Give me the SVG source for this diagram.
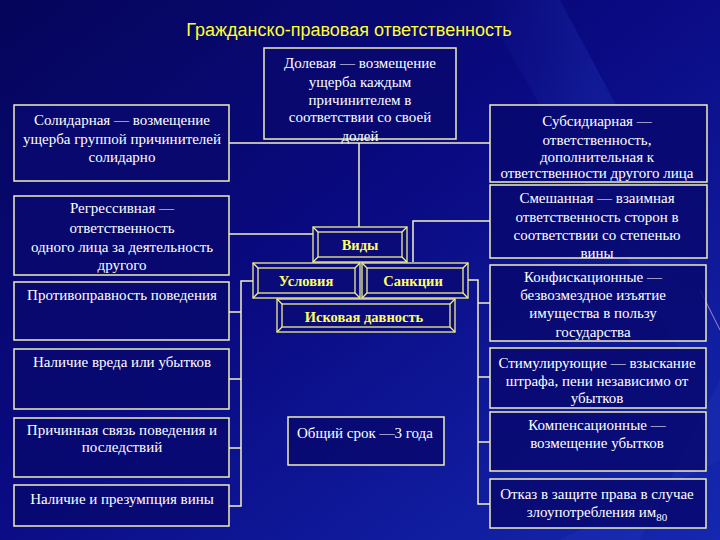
<svg xmlns="http://www.w3.org/2000/svg" width="720" height="540" viewBox="0 0 720 540">
<defs>
<linearGradient id="bg" x1="0" y1="0" x2="1" y2="1">
<stop offset="0" stop-color="#05055a"/>
<stop offset="0.45" stop-color="#0a0a82"/>
<stop offset="1" stop-color="#1428b0"/>
</linearGradient>
<linearGradient id="streak" x1="0" y1="0" x2="1" y2="0">
<stop offset="0" stop-color="#2a50d0" stop-opacity="0"/>
<stop offset="0.5" stop-color="#2a50d0" stop-opacity="0.35"/>
<stop offset="1" stop-color="#2a50d0" stop-opacity="0"/>
</linearGradient>
<style>
.box{fill:#08086e;fill-opacity:0.85;stroke:#eeeebb;stroke-width:1.5}
.bev{fill:#0a0a78;stroke:#f0f090;stroke-width:1.3}
.bevi{fill:none;stroke:#f0f090;stroke-width:1.3}
.t{font-family:'Liberation Serif','DejaVu Serif',serif;font-size:15px;fill:#ffffff;text-anchor:middle}
.tl{text-anchor:start}
.b{font-family:'Liberation Serif','DejaVu Serif',serif;font-size:14.5px;font-weight:bold;fill:#ffff66;text-anchor:middle}
.c{fill:none;stroke:#f2f2c0;stroke-width:1.5}
</style>
</defs>
<rect x="0" y="0" width="720" height="540" fill="url(#bg)"/>
<polygon points="480,0 560,0 720,300 720,420" fill="url(#streak)" opacity="0.6"/>
<polygon points="560,540 640,540 720,380 720,460" fill="#3050d0" opacity="0.15"/>
<line x1="700" y1="290" x2="720" y2="330" stroke="#e0b0e0" stroke-width="1" opacity="0.7"/>

<text x="349" y="36" font-family="'Liberation Sans',Arial,sans-serif" font-size="18" fill="#ffff33" text-anchor="middle">Гражданско-правовая ответственность</text>

<g id="connectors">
<line class="c" x1="229" y1="143" x2="490" y2="143"/>
<line class="c" x1="359" y1="143" x2="359" y2="227"/>
<line class="c" x1="229" y1="234" x2="313" y2="234"/>
<polyline class="c" points="413,262 413,221 490,221"/>
<polyline class="c" points="253,281 241,281 241,506 229,506"/>
<line class="c" x1="229" y1="312" x2="241" y2="312"/>
<line class="c" x1="229" y1="379" x2="241" y2="379"/>
<line class="c" x1="229" y1="448" x2="241" y2="448"/>
<polyline class="c" points="468,280 478,280 478,504 490,504"/>
<line class="c" x1="478" y1="303" x2="490" y2="303"/>
<line class="c" x1="478" y1="377" x2="490" y2="377"/>
<line class="c" x1="478" y1="442" x2="490" y2="442"/>
</g>

<g id="solidarnaya">
<rect class="box" x="14" y="105" width="215" height="76"/>
<text class="t" x="122" y="125">Солидарная — возмещение</text>
<text class="t" x="122" y="144">ущерба группой причинителей</text>
<text class="t" x="122" y="162">солидарно</text>
</g>

<g id="dolevaya">
<rect class="box" x="264" y="48" width="192" height="91"/>
<text class="t" x="360" y="68">Долевая — возмещение</text>
<text class="t" x="360" y="87">ущерба каждым</text>
<text class="t" x="360" y="105">причинителем в</text>
<text class="t" x="360" y="122">соответствии со своей</text>
<text class="t" x="360" y="141">долей</text>
</g>

<g id="subsidiarnaya">
<rect class="box" x="490" y="105" width="217" height="77"/>
<text class="t" x="597" y="126">Субсидиарная —</text>
<text class="t" x="597" y="145">ответственность,</text>
<text class="t" x="597" y="162">дополнительная к</text>
<text class="t" x="597" y="178">ответственности другого лица</text>
</g>

<g id="smeshannaya">
<rect class="box" x="490" y="185" width="217" height="73"/>
<text class="t" x="597" y="203">Смешанная — взаимная</text>
<text class="t" x="597" y="222">ответственность сторон в</text>
<text class="t" x="597" y="240">соответствии со степенью</text>
<text class="t" x="597" y="258">вины</text>
</g>

<g id="regressivnaya">
<rect class="box" x="14" y="196" width="215" height="79"/>
<text class="t" x="122" y="213">Регрессивная —</text>
<text class="t" x="122" y="233">ответственность</text>
<text class="t" x="122" y="252">одного лица за деятельность</text>
<text class="t" x="122" y="270">другого</text>
</g>

<g id="protivopravnost">
<rect class="box" x="14" y="282" width="215" height="58"/>
<text class="t" x="122" y="300">Противоправность поведения</text>
</g>

<g id="nalichie-vreda">
<rect class="box" x="14" y="349" width="215" height="60"/>
<text class="t" x="122" y="367">Наличие вреда или убытков</text>
</g>

<g id="prichinnaya">
<rect class="box" x="14" y="418" width="215" height="59"/>
<text class="t" x="122" y="435">Причинная связь поведения и</text>
<text class="t" x="122" y="452">последствий</text>
</g>

<g id="vina">
<rect class="box" x="14" y="485" width="215" height="41"/>
<text class="t" x="122" y="504">Наличие и презумпция вины</text>
</g>

<g id="konfiskacionnye">
<rect class="box" x="490" y="265" width="216" height="76"/>
<text class="t" x="593" y="282">Конфискационные —</text>
<text class="t" x="593" y="300">безвозмездное изъятие</text>
<text class="t" x="593" y="318">имущества в пользу</text>
<text class="t" x="593" y="337">государства</text>
</g>

<g id="stimuliruyushie">
<rect class="box" x="490" y="348" width="216" height="60"/>
<text class="t" x="597" y="368">Стимулирующие — взыскание</text>
<text class="t" x="597" y="386">штрафа, пени независимо от</text>
<text class="t" x="597" y="403">убытков</text>
</g>

<g id="kompensacionnye">
<rect class="box" x="490" y="412" width="216" height="59"/>
<text class="t" x="597" y="430">Компенсационные —</text>
<text class="t" x="597" y="448">возмещение убытков</text>
</g>

<g id="otkaz">
<rect class="box" x="490" y="479" width="216" height="49"/>
<text class="t" x="597" y="499">Отказ в защите права в случае</text>
<text class="t" x="597" y="517">злоупотребления им<tspan font-size="11" dy="4">80</tspan></text>
</g>

<g id="obshiy-srok">
<rect class="box" x="288" y="417" width="156" height="48"/>
<text class="t tl" x="297" y="438">Общий срок —3 года</text>
</g>

<g id="vidy">
<rect class="bev" x="313" y="227" width="94" height="35"/>
<rect class="bevi" x="318" y="232" width="84" height="25"/>
<path class="bevi" d="M313,227 L318,232 M407,227 L402,232 M313,262 L318,257 M407,262 L402,257"/>
<text class="b" x="360" y="250">Виды</text>
</g>

<g id="usloviya">
<rect class="bev" x="253" y="263" width="107" height="35"/>
<rect class="bevi" x="258" y="268" width="97" height="25"/>
<path class="bevi" d="M253,263 L258,268 M360,263 L355,268 M253,298 L258,293 M360,298 L355,293"/>
<text class="b" x="306" y="286">Условия</text>
</g>

<g id="sankcii">
<rect class="bev" x="362" y="263" width="106" height="35"/>
<rect class="bevi" x="367" y="268" width="96" height="25"/>
<path class="bevi" d="M362,263 L367,268 M468,263 L463,268 M362,298 L367,293 M468,298 L463,293"/>
<text class="b" x="413" y="286">Санкции</text>
</g>

<g id="iskovaya">
<rect class="bev" x="277" y="299" width="178" height="33"/>
<rect class="bevi" x="282" y="304" width="168" height="23"/>
<path class="bevi" d="M277,299 L282,304 M455,299 L450,304 M277,332 L282,327 M455,332 L450,327"/>
<text class="b" x="364" y="322">Исковая давность</text>
</g>
</svg>
